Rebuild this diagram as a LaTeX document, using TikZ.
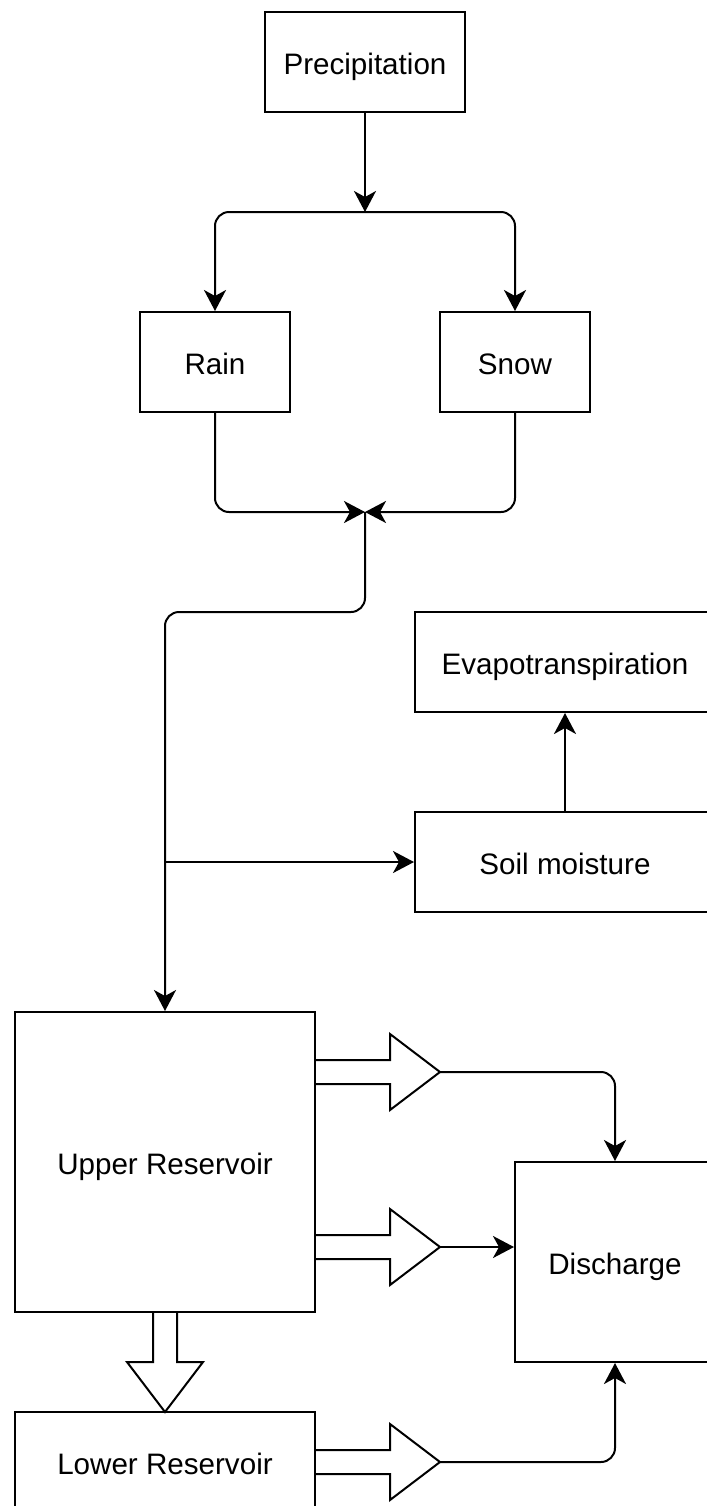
\documentclass[tikz,border=0pt]{standalone}
\usepackage{fontspec}
\setmainfont{Liberation Sans}
\usetikzlibrary{arrows.meta,positioning}

\begin{document}
\begin{tikzpicture}[
    x=0.5pt, y=-0.5pt,
    line width=1pt,
    box/.style={draw, rectangle, inner sep=0pt, text height=12.5pt, text depth=0pt,
        font=\fontsize{14.8}{18}\selectfont},
    flow/.style={-{Stealth[length=10.5pt,width=11pt,inset=3pt]}, rounded corners=7pt},
    pics/fatarrow/.style={code={
        \draw[line join=miter] (0,12) -- (#1-50,12) -- (#1-50,38) -- (#1,0)
            -- (#1-50,-38) -- (#1-50,-12) -- (0,-12);
    }},
]
\useasboundingbox (0,0) rectangle (707,1506);
\clip (0,0) rectangle (707,1506);

\node[box, minimum width=100pt, minimum height=50pt] (precip) at (365,62) {Precipitation};
\node[box, minimum width=75pt, minimum height=50pt] (rain) at (215,362) {Rain};
\node[box, minimum width=75pt, minimum height=50pt] (snow) at (515,362) {Snow};
\node[box, minimum width=150pt, minimum height=50pt] (evap) at (565,662) {Evapotranspiration};
\node[box, minimum width=150pt, minimum height=50pt] (soil) at (565,862) {Soil moisture};
\node[box, minimum width=150pt, minimum height=150pt] (upper) at (165,1162) {Upper Reservoir};
\node[box, minimum width=100pt, minimum height=100pt] (discharge) at (615,1262) {Discharge};
\node[box, minimum width=150pt, minimum height=50pt] (lower) at (165,1462) {Lower Reservoir};

\coordinate (split) at (365,212);
\coordinate (merge) at (365,512);
\coordinate (tap) at (165,862);
\coordinate (out1) at (440,1072);
\coordinate (out2) at (440,1247);
\coordinate (out3) at (440,1462);

\draw[flow] (precip) -- (split);
\draw[flow] (split) -| (rain.north);
\draw[flow] (split) -| (snow.north);
\draw[flow] (rain.south) |- (merge);
\draw[flow] (snow.south) |- (merge);
\draw[flow] (merge) -- ++(0,100) -| (upper.north);
\draw[flow] (tap) -- (soil.west);
\draw[flow] (soil.north) -- (evap.south);

% outflows
\pic at (315,1072) {fatarrow=125};
\pic at (315,1247) {fatarrow=125};
\pic at (315,1462) {fatarrow=125};
\pic[rotate=-90] at (165,1312) {fatarrow=100};

\draw[flow] (out1) -| (discharge.north);
\draw[flow] (out2) -- (discharge.west |- out2);
\draw[flow] (out3) -| (discharge.south);
\end{tikzpicture}
\end{document}
